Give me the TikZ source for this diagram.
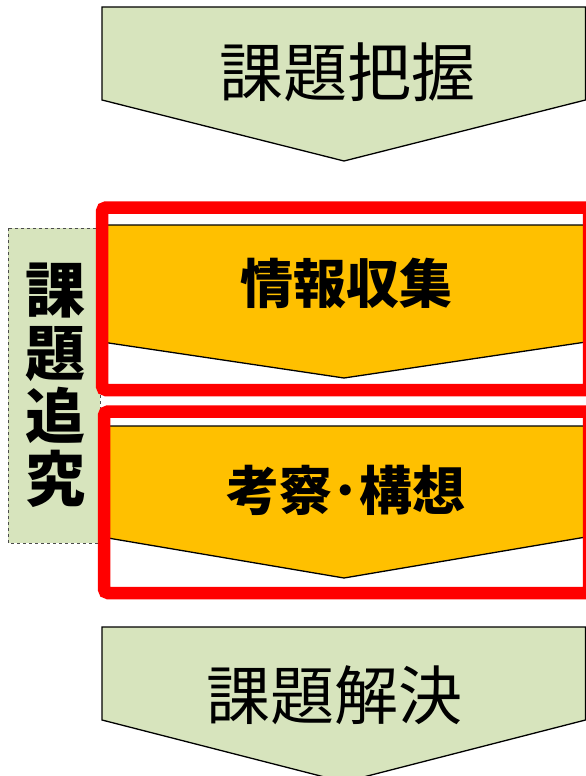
\documentclass[tikz,border=0pt]{standalone}
\usepackage{fontspec}
\setmainfont{Noto Sans CJK JP}
\definecolor{lgreen}{HTML}{D7E4BD}
\definecolor{gold}{HTML}{FFC000}
\definecolor{redb}{HTML}{FF0000}
\begin{document}
\begin{tikzpicture}[x=1pt,y=-1pt,
  shapeline/.style={draw=black,line width=1.3pt,line join=miter},
  redbox/.style={draw=redb,line width=12.5pt,rounded corners=4pt},
  bigtext/.style={inner sep=0pt,font=\fontsize{64}{70}\selectfont},
  boldtext/.style={inner sep=0pt,font=\fontsize{53}{60}\selectfont\bfseries}]
\useasboundingbox (0,0) rectangle (586,776);
% left label box
\draw[fill=lgreen,draw=black!70,dashed,line width=0.8pt] (8,228) rectangle (100,543);
% top arrow
\draw[shapeline,fill=lgreen] (102,7) -- (585.5,7) -- (585.5,100) -- (344,161) -- (102,100) -- cycle;
% yellow arrows
\draw[shapeline,fill=gold] (102,225) -- (586,225) -- (586,342) -- (344,378) -- (102,342) -- cycle;
\draw[shapeline,fill=gold] (102,426) -- (586,426) -- (586,537) -- (344,578) -- (102,537) -- cycle;
% bottom arrow
\draw[shapeline,fill=lgreen] (102,627) -- (585.5,627) -- (585.5,720) -- (344,782) -- (102,720) -- cycle;
% red frames
\draw[redbox] (102,207.5) rectangle (589,390);
\draw[redbox] (104,411.5) rectangle (589,593);
% texts
\node[bigtext] (t1) at (347,72) {課題把握};
\node[boldtext] (t2) at (346,283) {情報収集};
\node[boldtext] (t3) at (346,490) {考察･構想};
\node[bigtext] (t4) at (334,695) {課題解決};
\node[inner sep=0pt,align=center,font=\fontsize{60}{63}\selectfont\bfseries] (lab) at (55,385) {課\\題\\追\\究};
\end{tikzpicture}
\end{document}
